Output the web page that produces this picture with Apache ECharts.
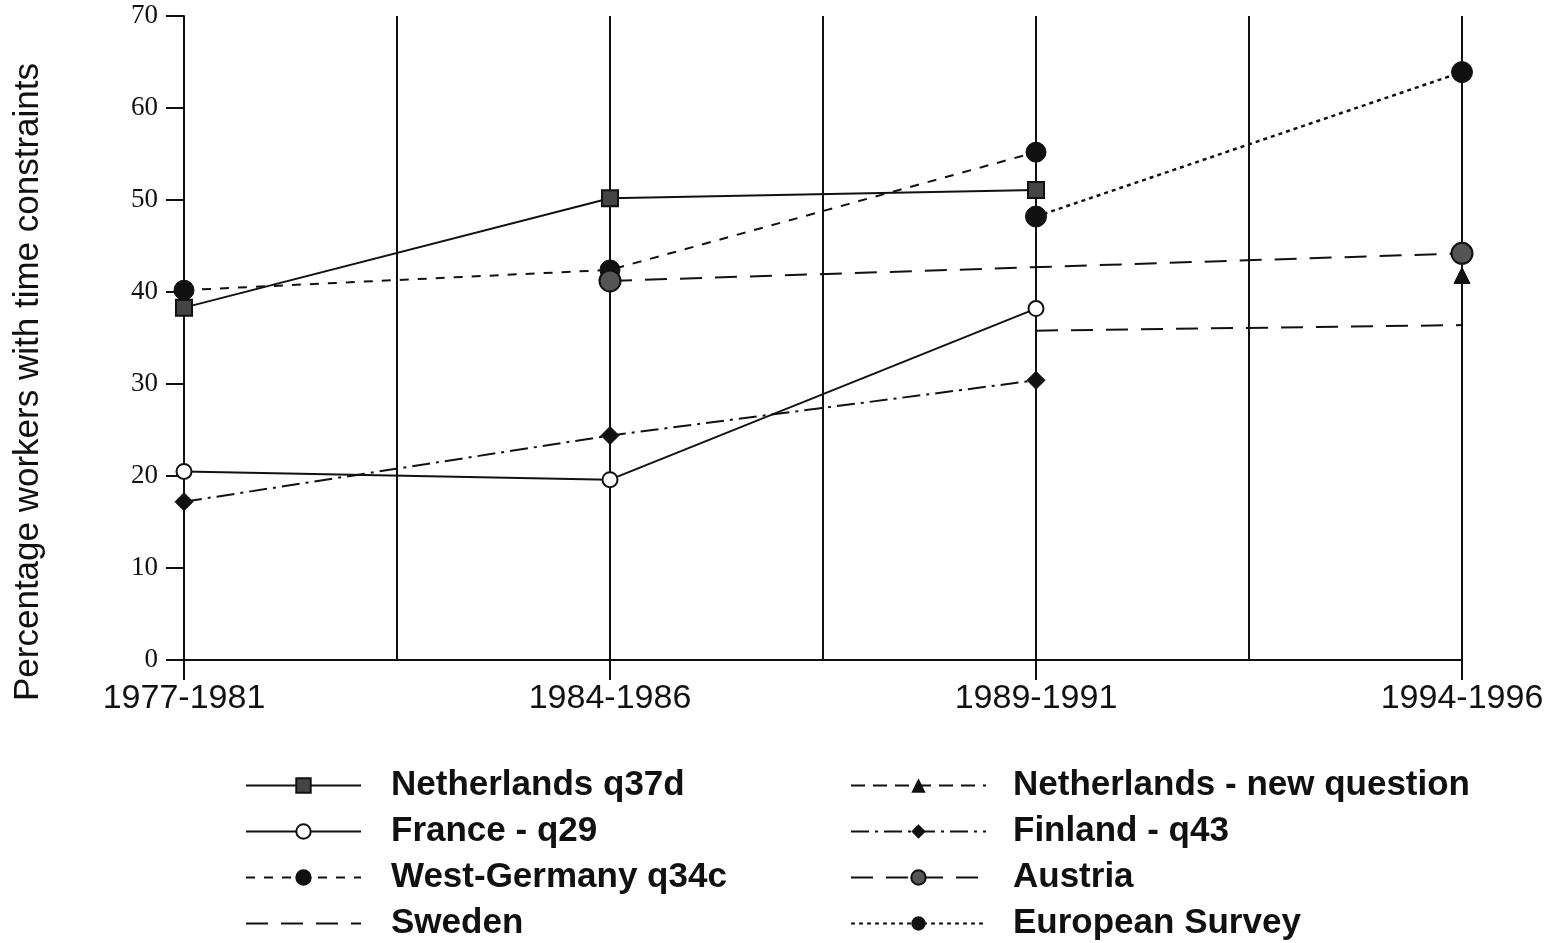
<!DOCTYPE html>
<html>
<head>
<meta charset="utf-8">
<script src="https://cdn.jsdelivr.net/npm/echarts@6/dist/echarts.min.js"></script>
<style>html,body{margin:0;padding:0;background:#fff;}#chart{width:1547px;height:943px;}</style>
</head>
<body>
<div id="chart"></div>
<script>
const categories = ['1977-1981', '1984-1986', '1989-1991', '1994-1996'];
const yTicks = [0, 10, 20, 30, 40, 50, 60, 70];
const nlQ37d = [38.3, 50.2, 51.1, null];
const franceQ29 = [20.5, 19.6, 38.2, null];
const westGermanyQ34c = [40.2, 42.4, 55.2, null];
const sweden = [null, null, 35.8, 36.4];
const nlNewQuestion = [null, null, null, 41.8];
const finlandQ43 = [17.2, 24.4, 30.4, null];
const austria = [null, 41.2, null, 44.2];
const europeanSurvey = [null, null, 48.2, 63.9];

function pairs(arr) {
  const out = [];
  arr.forEach((v, i) => { if (v !== null) out.push([i, v]); });
  return out;
}

const chart = echarts.init(document.getElementById('chart'));
const black = '#111';
const legendFont = { fontFamily: 'Liberation Sans, Arial, sans-serif', fontWeight: 'bold', fontSize: 35, color: black };

chart.setOption({
  backgroundColor: '#fff',
  animation: false,
  grid: { left: 184, right: 85, top: 16, bottom: 283, containLabel: false, outerBoundsMode: 'none' },
  legend: [
    {
      orient: 'vertical', left: 245, top: 768, padding: 0, itemWidth: 115, itemHeight: 18, itemGap: 11,
      textStyle: Object.assign({ padding: [0, 0, 0, 25] }, legendFont),
      data: ['Netherlands q37d', 'France - q29', 'West-Germany q34c', { name: 'Sweden', itemStyle: { opacity: 0 } }]
    },
    {
      orient: 'vertical', left: 850, top: 768, padding: 0, itemWidth: 135, itemHeight: 18, itemGap: 11,
      textStyle: Object.assign({ padding: [0, 0, 0, 22] }, legendFont),
      data: ['Netherlands - new question', 'Finland - q43', 'Austria', 'European Survey']
    }
  ],
  xAxis: [
    {
      type: 'value', min: 0, max: 3, interval: 0.5,
      axisLine: { show: true, lineStyle: { color: black, width: 2 } },
      axisTick: { show: true, length: 20, customValues: [0, 1, 2, 3], lineStyle: { color: black, width: 2 } },
      axisLabel: {
        customValues: [0, 1, 2, 3],
        formatter: v => categories[Math.round(v)],
        fontFamily: 'Liberation Sans, Arial, sans-serif', fontSize: 34, color: black, margin: 22
      },
      splitLine: { show: true, lineStyle: { color: black, width: 2 } }
    },
    {
      type: 'value', min: 0, max: 3, interval: 0.5, position: 'bottom',
      axisLine: { show: false }, axisTick: { show: false }, axisLabel: { show: false },
      splitLine: { show: true, lineStyle: { color: black, width: 2 } }
    }
  ],
  yAxis: {
    type: 'value', min: 0, max: 70, interval: 10,
    name: 'Percentage workers with time constraints',
    nameLocation: 'middle', nameGap: 138, nameRotate: 90,
    nameTextStyle: { fontFamily: 'Liberation Sans, Arial, sans-serif', fontSize: 35, color: black, padding: [0, 88, 0, 0] },
    axisLine: { show: true, lineStyle: { color: black, width: 2 } },
    axisTick: { show: true, length: 18, lineStyle: { color: black, width: 2 } },
    axisLabel: {
      formatter: v => yTicks.includes(v) ? String(v) : '',
      fontFamily: 'Liberation Serif, Times New Roman, serif', fontSize: 27, color: black, margin: 26
    },
    splitLine: { show: false }
  },
  series: [
    {
      name: 'Netherlands q37d', type: 'line', data: pairs(nlQ37d),
      symbol: 'rect', symbolSize: 16,
      lineStyle: { color: black, width: 2, type: 'solid' },
      itemStyle: { color: '#444', borderColor: black, borderWidth: 2 }, z: 3
    },
    {
      name: 'France - q29', type: 'line', data: pairs(franceQ29),
      symbol: 'circle', symbolSize: 15,
      lineStyle: { color: black, width: 2, type: 'solid' },
      itemStyle: { color: '#fff', borderColor: black, borderWidth: 2 }, z: 3
    },
    {
      name: 'West-Germany q34c', type: 'line', data: pairs(westGermanyQ34c),
      symbol: 'circle', symbolSize: 20,
      lineStyle: { color: black, width: 2, type: [9, 9] },
      itemStyle: { color: black, borderColor: black, borderWidth: 1 }, z: 3
    },
    {
      name: 'Sweden', type: 'line', data: pairs(sweden),
      symbol: 'none',
      lineStyle: { color: black, width: 2, type: [22, 13] },
      itemStyle: { color: black }, z: 3
    },
    {
      name: 'Netherlands - new question', type: 'line', data: pairs(nlNewQuestion),
      symbol: 'triangle', symbolSize: 16,
      lineStyle: { color: black, width: 2, type: [14, 8] },
      itemStyle: { color: black, borderColor: black }, z: 4
    },
    {
      name: 'Finland - q43', type: 'line', data: pairs(finlandQ43),
      symbol: 'diamond', symbolSize: 18,
      lineStyle: { color: black, width: 2, type: [18, 6, 3, 6] },
      itemStyle: { color: black, borderColor: black }, z: 3
    },
    {
      name: 'Austria', type: 'line', data: pairs(austria),
      symbol: 'circle', symbolSize: 21,
      lineStyle: { color: black, width: 2, type: [22, 13] },
      itemStyle: { color: '#555', borderColor: black, borderWidth: 2 }, z: 4
    },
    {
      name: 'European Survey', type: 'line', data: pairs(europeanSurvey),
      symbol: 'circle', symbolSize: 21,
      lineStyle: { color: black, width: 2.5, type: [4, 4] },
      itemStyle: { color: black, borderColor: black }, z: 3
    }
  ]
});
</script>
</body>
</html>
